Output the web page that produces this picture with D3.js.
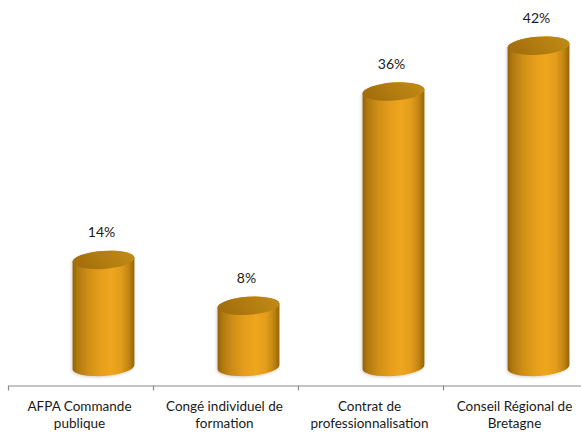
<!DOCTYPE html>
<html>
<head>
<meta charset="utf-8">
<script src="https://cdn.jsdelivr.net/npm/d3@7"></script>
<style>
  html, body { margin: 0; padding: 0; background: #ffffff; }
  svg { display: block; }
  text { font-family: Lato, "Open Sans", sans-serif; fill: #1a1a1a; }
</style>
</head>
<body>
<svg id="chart" width="581" height="433"></svg>
<script>
const categories = [
  "AFPA Commande publique",
  "Congé individuel de formation",
  "Contrat de professionnalisation",
  "Conseil Régional de Bretagne"
];
const values = [14, 8, 36, 42];
const valueLabels = ["14%", "8%", "36%", "42%"];

const W = 581, H = 433;
const svg = d3.select("#chart");

// floor (axis) band scale
const x = d3.scaleBand().domain(categories).range([8, 588]).paddingInner(0).paddingOuter(0);
// tick boundaries
const xEdge = d3.scaleLinear().domain([0, categories.length]).range([8, 588]);
const y = d3.scaleLinear().domain([0, 45]).range([367, 367 - 45 * 7.65]);

const depthOffset = 23;
const rx = 31, ry = 9, tilt = -4;
const rad = tilt * Math.PI / 180;
const a = rx * Math.cos(rad), b = rx * Math.sin(-rad);

const defs = svg.append("defs");
const bodyGrad = defs.append("linearGradient").attr("id", "bodyGrad")
  .attr("x1", "0%").attr("x2", "100%").attr("y1", "0%").attr("y2", "0%");
[
  [0, "#946208"], [0.08, "#B07910"], [0.25, "#CF8F16"], [0.45, "#E69E1C"],
  [0.62, "#EFA620"], [0.78, "#E39D1C"], [0.9, "#C48712"], [1, "#95640A"]
].forEach(([o, c]) => bodyGrad.append("stop").attr("offset", o).attr("stop-color", c));

const topGrad = defs.append("linearGradient").attr("id", "topGrad")
  .attr("x1", "0%").attr("x2", "100%").attr("y1", "60%").attr("y2", "40%");
[
  [0, "#A06C0C"], [0.5, "#B27C10"], [1, "#C08A16"]
].forEach(([o, c]) => topGrad.append("stop").attr("offset", o).attr("stop-color", c));

const shadow = defs.append("filter").attr("id", "shadow")
  .attr("x", "-20%").attr("y", "-10%").attr("width", "140%").attr("height", "120%");
shadow.append("feDropShadow").attr("dx", -1).attr("dy", 1).attr("stdDeviation", 1.5)
  .attr("flood-color", "#000").attr("flood-opacity", 0.18);

// axis
const axis = d3.axisBottom(xEdge)
  .tickValues(d3.range(categories.length + 1))
  .tickSize(5).tickSizeOuter(0).tickFormat("");
const gAxis = svg.append("g").attr("transform", "translate(0,385.5)").call(axis);
gAxis.select(".domain").attr("stroke", "#8c8c8c").attr("stroke-width", 1.2);
gAxis.selectAll(".tick line").attr("stroke", "#8c8c8c").attr("stroke-width", 1.2);

// cylinders
const bars = svg.append("g").selectAll("g.bar")
  .data(categories.map((c, i) => ({ c, v: values[i], label: valueLabels[i] })))
  .enter().append("g").attr("class", "bar");

bars.each(function (d) {
  const g = d3.select(this);
  const cx = x(d.c) + x.bandwidth() / 2 + depthOffset;
  const yT = y(d.v), yB = y(0);
  const path = `M${cx - a},${yT + b} L${cx - a},${yB + b} ` +
    `A${rx},${ry} ${tilt} 0 0 ${cx + a},${yB - b} ` +
    `L${cx + a},${yT - b} A${rx},${ry} ${tilt} 0 0 ${cx - a},${yT + b} Z`;
  g.append("path").attr("d", path).attr("fill", "url(#bodyGrad)").attr("filter", "url(#shadow)");
  g.append("ellipse")
    .attr("cx", cx).attr("cy", yT).attr("rx", rx).attr("ry", ry)
    .attr("transform", `rotate(${tilt},${cx},${yT})`)
    .attr("fill", "url(#topGrad)");
  g.append("text")
    .attr("x", cx - 2).attr("y", yT - 28)
    .attr("text-anchor", "middle").attr("dominant-baseline", "central")
    .attr("font-size", 14)
    .text(d.label);
});

// category labels with wrapping
const labels = svg.append("g").selectAll("text.cat")
  .data(categories).enter().append("text")
  .attr("class", "cat")
  .attr("text-anchor", "middle")
  .attr("font-size", 13.5)
  .attr("x", d => x(d) + x.bandwidth() / 2 - 1)
  .attr("y", 411);

labels.each(function (d) {
  const t = d3.select(this);
  const words = d.split(" ");
  const maxW = 132;
  let line = [], lines = [];
  const probe = t.append("tspan");
  words.forEach(w => {
    const test = line.concat([w]).join(" ");
    probe.text(test);
    if (probe.node().getComputedTextLength() > maxW && line.length) {
      lines.push(line.join(" "));
      line = [w];
    } else {
      line.push(w);
    }
  });
  lines.push(line.join(" "));
  probe.remove();
  const cx = t.attr("x");
  lines.forEach((l, i) => {
    t.append("tspan").attr("x", cx).attr("dy", i === 0 ? 0 : 17).text(l);
  });
});
</script>
</body>
</html>
